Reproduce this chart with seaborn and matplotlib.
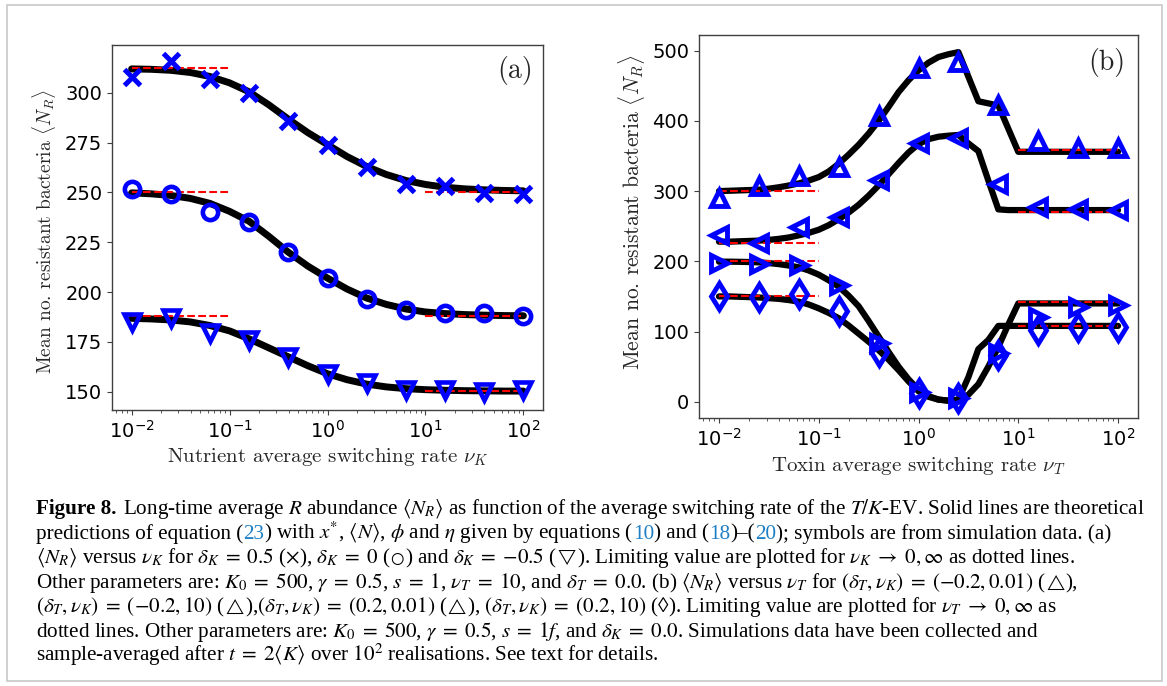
import numpy as np
import pandas as pd
import matplotlib
matplotlib.use("Agg")
import matplotlib.pyplot as plt
import seaborn as sns
from matplotlib.offsetbox import TextArea, HPacker, AnchoredOffsetbox, DrawingArea
from matplotlib.patches import Rectangle

# ---------------------------------------------------------------- data
SIM_NU = [0.01, 0.0251, 0.0631, 0.158, 0.398, 1.0, 2.51, 6.31, 15.8, 39.8, 100.0]

# theory grid (log10 of switching rate)
LOG_A = [-2.0, -1.8, -1.6, -1.4, -1.2, -1.0, -0.8, -0.6, -0.4, -0.2, 0.0,
         0.2, 0.4, 0.6, 0.8, 1.0, 1.2, 1.4, 1.6, 1.8, 2.0]
LOG_B = [-2.0, -1.9, -1.8, -1.7, -1.6, -1.5, -1.4, -1.3, -1.2, -1.1, -1.0,
         -0.9, -0.8, -0.7, -0.6, -0.5, -0.4, -0.3, -0.2, -0.1, 0.0,
         0.1, 0.2, 0.3, 0.4, 0.5, 0.6, 0.7, 0.8, 0.9, 1.0,
         1.1, 1.2, 1.3, 1.4, 1.5, 1.6, 1.7, 1.8, 1.9, 2.0]

LIM_LOW_NU = [0.01, 0.1]
LIM_HIGH_NU = [10.0, 100.0]

# panel (a)
A_SIM_CROSS = [308, 316, 307, 300, 286, 274, 263, 254, 253, 249.5, 249]
A_SIM_CIRCLE = [251.5, 249, 240, 235, 220, 207, 196.5, 191, 189.5, 189.5, 188]
A_SIM_TRI = [185, 187, 179.6, 176, 167.5, 159, 154.2, 151, 151, 150, 151]

A_TH_CROSS = [312.0, 311.8, 311.3, 310.2, 308.2, 305.0, 300.5, 294.0, 286.8, 280.0,
              274.0, 268.0, 263.0, 259.0, 256.0, 254.0, 252.6, 251.8, 251.3, 251.0, 250.8]
A_TH_CIRCLE = [249.8, 249.3, 248.5, 247.0, 244.5, 240.5, 235.5, 228.0, 220.0, 213.0,
               207.0, 201.5, 197.0, 193.8, 191.5, 190.0, 189.2, 188.7, 188.4, 188.2, 188.1]
A_TH_TRI = [186.8, 186.5, 186.0, 185.0, 183.2, 180.5, 176.5, 172.0, 167.5, 163.0,
            159.0, 156.0, 153.8, 152.4, 151.5, 151.0, 150.7, 150.5, 150.4, 150.3, 150.3]

A_LIM_CROSS = [312.5, 250.3]
A_LIM_CIRCLE = [250.0, 188.0]
A_LIM_TRI = [188.0, 150.3]

# panel (b)
B_SIM_UP = [290, 308, 321, 335, 407, 475, 484, 422, 372, 362, 361]
B_SIM_LEFT = [237.5, 225.5, 249, 263, 316, 368, 375, 310, 278, 274.5, 273]
B_SIM_RIGHT = [197, 196, 195, 166, 83, 14, 6, 70, 120, 134.5, 138]
B_SIM_DIAM = [150, 149, 153.5, 129.5, 71, 12, 5, 66, 102, 106.5, 106.5]

B_TH_UP = [300, 300.5, 301, 301.5, 302, 303.5, 305.5, 308, 311, 315, 320,
           328, 339, 352, 366, 382, 400, 420, 441, 458, 472,
           483, 491, 495, 498, 463, 428, 425, 422, 389, 356,
           356, 356, 356, 356, 356, 356, 356, 356, 356, 356]
B_TH_LEFT = [228, 228, 228.5, 229, 229.5, 230.5, 232, 234, 237, 240.5, 245,
             251.5, 260, 269.5, 280.5, 293.5, 308, 324, 340, 355, 367,
             374, 377.5, 379, 380, 368, 357, 315, 274, 273, 273,
             273, 273, 273, 273, 273, 273, 273, 273, 273, 273]
B_TH_RIGHT = [199.5, 199.5, 199.3, 199, 198.5, 197.5, 196, 194, 191.5, 187, 181,
              173, 164, 151, 136, 115, 93, 71, 50, 32, 17,
              8, 3, 1.5, 2, 10, 25, 50, 78, 110, 140,
              140, 140, 140, 140, 140, 140, 140, 140, 140, 140]
B_TH_DIAM = [150, 150, 149.5, 149, 148.5, 147.5, 146.5, 144.8, 142.5, 138.5, 133,
             126.5, 119, 108.5, 97, 85.5, 73.5, 60, 45, 29, 15,
             7, 3, 1.5, 3, 35, 75, 88, 108, 108, 108,
             108, 108, 108, 108, 108, 108, 108, 108, 108, 108]

B_LIM_UP = [300.5, 358.5]
B_LIM_LEFT = [225.5, 270.0]
B_LIM_RIGHT = [200.5, 142.0]
B_LIM_DIAM = [150.5, 108.0]

A_YTICKS = [150, 175, 200, 225, 250, 275, 300]
B_YTICKS = [0, 100, 200, 300, 400, 500]

# ---------------------------------------------------------------- style
W, H = 1167, 686
sns.set_theme(style="ticks")
plt.rcParams.update({
    "font.family": ["DejaVu Sans"],
    "axes.edgecolor": "#404040",
    "axes.linewidth": 1.0,
    "xtick.color": "#404040",
    "ytick.color": "#404040",
    "xtick.labelcolor": "black",
    "ytick.labelcolor": "black",
    "xtick.major.size": 3.5,
    "ytick.major.size": 3.5,
    "xtick.minor.size": 2.0,
    "xtick.major.width": 0.8,
    "ytick.major.width": 0.8,
    "xtick.minor.width": 0.6,
    "xtick.labelsize": 14,
    "ytick.labelsize": 14,
    "axes.facecolor": "white",
})

fig = plt.figure(figsize=(W / 100, H / 100), dpi=100)
fig.patch.set_facecolor("white")


def frac_axes(left, top, right, bottom):
    return [left / W, 1 - bottom / H, (right - left) / W, (bottom - top) / H]


ax_a = fig.add_axes(frac_axes(112, 45, 543, 410))
ax_b = fig.add_axes(frac_axes(699, 35, 1138, 418))

BLUE = "#0000ff"
LABEL_FONT = dict(fontfamily="cmr10", math_fontfamily="cm")


def theory(ax, logs, vals, lw):
    df = pd.DataFrame({"nu": [10 ** v for v in logs], "val": vals})
    sns.lineplot(data=df, x="nu", y="val", ax=ax, color="black", lw=lw,
                 errorbar=None, sort=False, zorder=2)


def limits(ax, lim):
    for xs, v in ((LIM_LOW_NU, lim[0]), (LIM_HIGH_NU, lim[1])):
        sns.lineplot(x=xs, y=[v, v], ax=ax, color="red", lw=1.5,
                     linestyle="--", errorbar=None, zorder=3)


def sim(ax, vals, marker, ms, mew):
    sns.lineplot(x=SIM_NU, y=vals, ax=ax, marker=marker, linestyle="none",
                 markersize=ms, markeredgewidth=mew, markerfacecolor="none",
                 markeredgecolor=BLUE, color=BLUE, errorbar=None, zorder=4)


# panel (a)
for th, lim, sv, mk, ms, mew in ((A_TH_CROSS, A_LIM_CROSS, A_SIM_CROSS, "x", 11.5, 3.6),
                                 (A_TH_CIRCLE, A_LIM_CIRCLE, A_SIM_CIRCLE, "o", 11, 3.3),
                                 (A_TH_TRI, A_LIM_TRI, A_SIM_TRI, "v", 11.5, 3.3)):
    theory(ax_a, LOG_A, th, 5)
    limits(ax_a, lim)
    sim(ax_a, sv, mk, ms, mew)

# panel (b)
for th, lim in ((B_TH_UP, B_LIM_UP), (B_TH_LEFT, B_LIM_LEFT),
                (B_TH_RIGHT, B_LIM_RIGHT), (B_TH_DIAM, B_LIM_DIAM)):
    theory(ax_b, LOG_B, th, 4.5)
    limits(ax_b, lim)
for sv, mk, ms in ((B_SIM_UP, "^", 12), (B_SIM_LEFT, "<", 12),
                   (B_SIM_RIGHT, ">", 12), (B_SIM_DIAM, "d", 13)):
    sim(ax_b, sv, mk, ms, 3.5)

for ax in (ax_a, ax_b):
    ax.set_xscale("log")
    ax.set_xlim(10 ** -2.2, 10 ** 2.2)
    for s in ax.spines.values():
        s.set_visible(True)
    ax.tick_params(axis="x", which="both", top=False)
    ax.tick_params(axis="y", which="both", right=False)
    ax.grid(False)

ax_a.set_ylim(140.8, 324.0)
ax_a.set_yticks(A_YTICKS)
ax_b.set_ylim(-23.2, 522.4)
ax_b.set_yticks(B_YTICKS)

ax_a.set_ylabel(r"Mean no. resistant bacteria $\langle N_R\rangle$", size=14, **LABEL_FONT)
ax_b.set_ylabel(r"Mean no. resistant bacteria $\langle N_R\rangle$", size=15.5, **LABEL_FONT)
ax_a.yaxis.set_label_coords(-0.125, 0.49)
ax_b.yaxis.set_label_coords(-0.118, 0.538)
ax_a.set_xlabel(r"Nutrient average switching rate $\nu_K$", size=15, **LABEL_FONT)
ax_b.set_xlabel(r"Toxin average switching rate $\nu_T$", size=15, **LABEL_FONT)
ax_a.xaxis.set_label_coords(0.5, -0.100)
ax_b.xaxis.set_label_coords(0.5, -0.0966)

ax_a.text(0.935, 0.9315, "(a)", transform=ax_a.transAxes, ha="center", va="center",
          size=20, **LABEL_FONT)
ax_b.text(0.929, 0.927, "(b)", transform=ax_b.transAxes, ha="center", va="center",
          size=20, **LABEL_FONT)

# ---------------------------------------------------------------- caption
CAP_FONT = "Liberation Serif"
LINK = "#1f7fc4"
K = "black"
S = 0.75   # relative size of the small geometric symbols

CAPTION = [
    [("Figure 8.", K, "bold", 1), "SP",
     (r"Long-time average $R$ abundance $\langle N_R\rangle$ as function of the average "
      r"switching rate of the $T/K$-EV. Solid lines are theoretical", K, "normal", 1)],
    [("predictions of equation (", K, "normal", 1), ("23", LINK, "normal", 1),
     (r") with $x^{*}$, $\langle N\rangle$, $\phi$ and $\eta$ given by equations (", K, "normal", 1),
     ("10", LINK, "normal", 1), (") and (", K, "normal", 1), ("18", LINK, "normal", 1),
     (")\u2013(", K, "normal", 1), ("20", LINK, "normal", 1),
     ("); symbols are from simulation data. (a)", K, "normal", 1)],
    [(r"$\langle N_R\rangle$ versus $\nu_K$ for $\delta_K = 0.5$ ($\times$), $\delta_K = 0$ (",
      K, "normal", 1), (r"$\bigcirc$", K, "normal", S),
     (r") and $\delta_K = {-0.5}$ (", K, "normal", 1), (r"$\bigtriangledown$", K, "normal", S),
     (r"). Limiting value are plotted for $\nu_K \to 0, \infty$ as dotted lines.",
      K, "normal", 1)],
    [(r"Other parameters are: $K_0 = 500$, $\gamma = 0.5$, $s = 1$, $\nu_T = 10$, and "
      r"$\delta_T = 0.0$. (b) $\langle N_R\rangle$ versus $\nu_T$ for "
      r"$(\delta_T, \nu_K) = (-0.2, 0.01)$ (", K, "normal", 1),
     (r"$\bigtriangleup$", K, "normal", S), ("),", K, "normal", 1)],
    [(r"$(\delta_T, \nu_K) = (-0.2, 10)$ (", K, "normal", 1),
     (r"$\bigtriangleup$", K, "normal", S),
     (r"),$(\delta_T, \nu_K) = (0.2, 0.01)$ (", K, "normal", 1),
     (r"$\bigtriangleup$", K, "normal", S),
     (r"), $(\delta_T, \nu_K) = (0.2, 10)$ (" + "\u25ca" + r"). Limiting value are "
      r"plotted for $\nu_T \to 0, \infty$ as", K, "normal", 1)],
    [(r"dotted lines. Other parameters are: $K_0 = 500$, $\gamma = 0.5$, $s = 1f$, and "
      r"$\delta_K = 0.0$. Simulations data have been collected and", K, "normal", 1)],
    [(r"sample-averaged after $t = 2\langle K\rangle$ over $10^2$ realisations. See text "
      r"for details.", K, "normal", 1)],
]
CAP_LEFT = 36
CAP_BOTTOMS = [521, 546, 570, 595, 619, 644, 668]
LINE1_WIDTH = 1107


def mathspace(txt):
    return txt.replace(" = ", r"\;=\;").replace(r" \to ", r"\;\to\;")


def build_line(segments, size):
    children = []
    for seg in segments:
        if seg == "SP":
            children.append(DrawingArea(size * 0.3, 1))
        else:
            txt, col, wt, rel = seg
            children.append(TextArea(mathspace(txt), textprops=dict(
                family=CAP_FONT, size=size * rel, color=col, weight=wt,
                math_fontfamily="stix")))
    return HPacker(children=children, align="baseline", pad=0, sep=0)


def place(box, x_px, y_px):
    anch = AnchoredOffsetbox(loc="lower left", child=box, pad=0, borderpad=0,
                             frameon=False, bbox_to_anchor=(x_px / W, 1 - y_px / H),
                             bbox_transform=fig.transFigure)
    fig.add_artist(anch)
    return anch


# fit size on first line
base = 13.0
probe = place(build_line(CAPTION[0], base), CAP_LEFT, CAP_BOTTOMS[0])
fig.canvas.draw()
pw = probe.get_window_extent(fig.canvas.get_renderer()).width
probe.remove()
cap_size = base * LINE1_WIDTH / pw

for segs, yb in zip(CAPTION, CAP_BOTTOMS):
    place(build_line(segs, cap_size), CAP_LEFT, yb)

# outer frame
fig.add_artist(Rectangle((7 / W, 1 - 681 / H), (1162 - 7) / W, (681 - 5) / H,
                         transform=fig.transFigure, fill=False,
                         edgecolor="#c8c8c8", lw=1.2))

fig.savefig("out.png", dpi=100)
